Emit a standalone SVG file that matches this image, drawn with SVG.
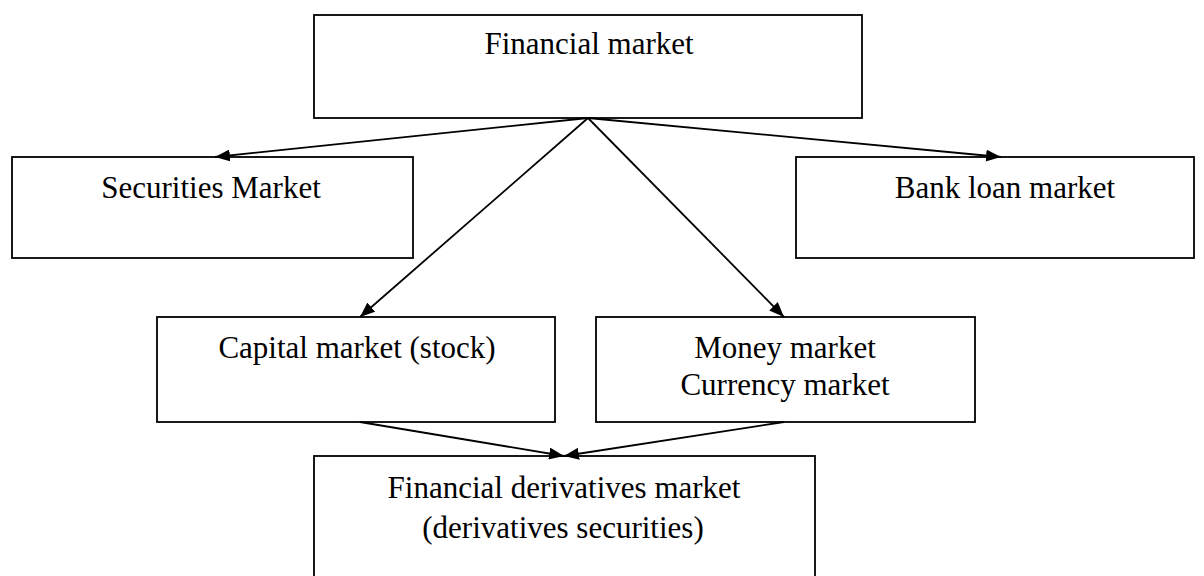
<svg xmlns="http://www.w3.org/2000/svg" width="1204" height="576" viewBox="0 0 1204 576">
<style>
.box{fill:#fff;stroke:#000;stroke-width:1.8}
.lbl{font-family:"Liberation Serif","Times New Roman",serif;font-size:31px;fill:#000;text-anchor:middle}
.edge{fill:none;stroke:#000;stroke-width:1.8;marker-end:url(#arr)}
</style>
<defs>
<marker id="arr" viewBox="0 0 15 12" refX="15" refY="6" markerWidth="15" markerHeight="12" markerUnits="userSpaceOnUse" orient="auto">
<path d="M0,0 L15,6 L0,12 z" fill="#000"/>
</marker>
</defs>
<rect width="1204" height="576" fill="#fff"/>
<g id="financial-market">
<rect class="box" x="314" y="15" width="548" height="103"/>
<text class="lbl" x="589" y="54">Financial market</text>
</g>
<g id="securities-market">
<rect class="box" x="12" y="157" width="401" height="101"/>
<text class="lbl" x="211" y="198">Securities Market</text>
</g>
<g id="bank-loan-market">
<rect class="box" x="796" y="157" width="398" height="101"/>
<text class="lbl" x="1005" y="198">Bank loan market</text>
</g>
<g id="capital-market">
<rect class="box" x="157" y="317" width="398" height="105"/>
<text class="lbl" x="357" y="358">Capital market (stock)</text>
</g>
<g id="money-market">
<rect class="box" x="596" y="317" width="379" height="105"/>
<text class="lbl" x="785" y="358">Money market</text>
<text class="lbl" x="785" y="395">Currency market</text>
</g>
<g id="derivatives-market">
<rect class="box" x="314" y="456" width="501" height="140"/>
<text class="lbl" x="564" y="498">Financial derivatives market</text>
<text class="lbl" x="563" y="538">(derivatives securities)</text>
</g>
<g id="connectors">
<line class="edge" x1="588" y1="118" x2="215" y2="157"/>
<line class="edge" x1="588" y1="118" x2="1001" y2="157"/>
<line class="edge" x1="588" y1="118" x2="360" y2="317"/>
<line class="edge" x1="588" y1="118" x2="784" y2="317"/>
<line class="edge" x1="360" y1="422" x2="564" y2="456"/>
<line class="edge" x1="784" y1="422" x2="564" y2="456"/>
</g>
</svg>
